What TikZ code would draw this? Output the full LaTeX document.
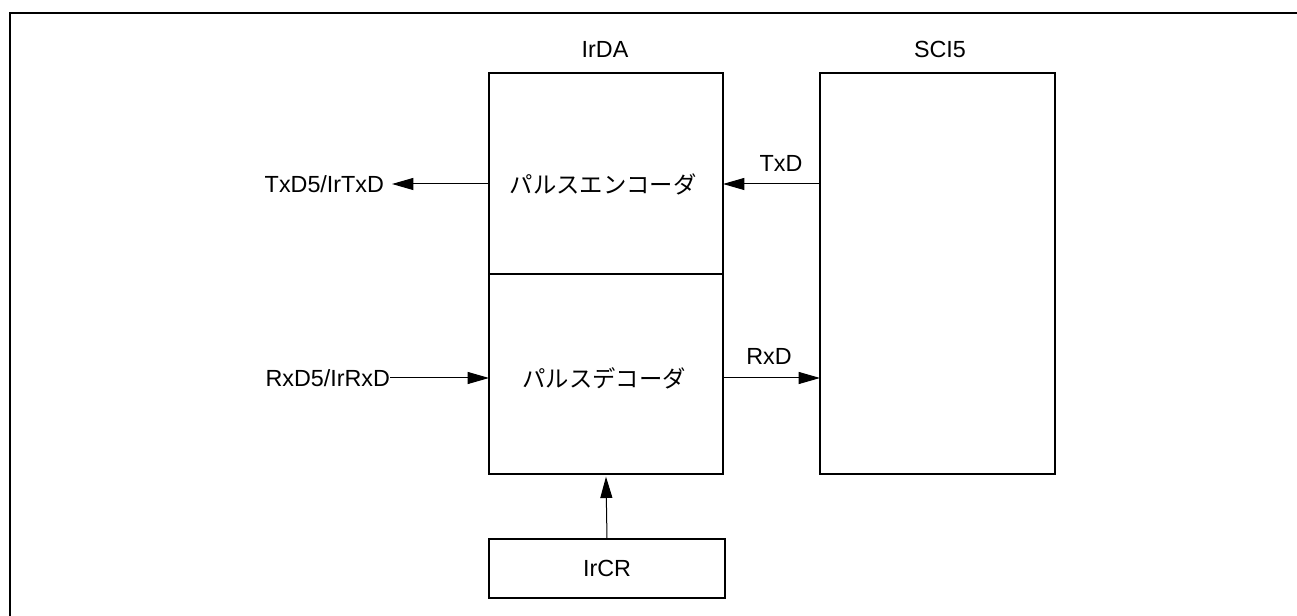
\documentclass[tikz,border=0pt]{standalone}
\usepackage{fontspec}
\setmainfont{Liberation Sans}
\newfontfamily\jpfont{Noto Sans CJK JP}
\usetikzlibrary{arrows.meta}
\begin{document}
\begin{tikzpicture}[x=0.75pt,y=-0.75pt,
  every node/.style={font=\fontsize{17.5pt}{21pt}\selectfont, inner sep=0pt, outer sep=0pt},
  blk/.style={draw, line width=1.5pt, anchor=north west},
  lbl/.style={anchor=center},
  arr/.style={line width=0.75pt, -{Triangle[length=16pt,width=9pt]}},
  frameline/.style={line width=2pt}]
\useasboundingbox (0,0) rectangle (1297,616);
% frame (clipped at right and bottom)
\coordinate (fa) at (1297,13);
\coordinate (fb) at (10,13);
\coordinate (fc) at (10,616);
\draw[frameline] (fa) -- (fb) -- (fc);
% blocks
\node[blk, minimum width=175.5pt, minimum height=150.75pt] (enc) at (489,73) {};
\node[blk, minimum width=175.5pt, minimum height=150pt] (dec) at (489,274) {};
\node[blk, minimum width=176.25pt, minimum height=300.75pt] (sci) at (820,73) {};
\node[blk, minimum width=177pt, minimum height=44.25pt] (ircr) at (489,539) {};
% texts
\node[lbl] (irda) at (605,49) {IrDA};
\node[lbl] (sci5) at (940,49) {SCI5};
\node[lbl] (enctxt) at (603,184) {\jpfont パルスエンコーダ};
\node[lbl] (dectxt) at (604,378) {\jpfont パルスデコーダ};
\node at (ircr.center) {IrCR};
\node[lbl] (txdl) at (781,163) {TxD};
\node[lbl] (rxdl) at (769,356) {RxD};
\node[anchor=east, outer xsep=6pt] (txd5) at (392,184) {TxD5/IrTxD};
\node[anchor=east] (rxd5) at (390,378) {RxD5/IrRxD};
% connectors
\draw[arr] (enc.west |- txd5.east) -- (txd5.east);
\draw[arr] (sci.west |- txd5.east) -- (enc.east |- txd5.east);
\draw[arr] (rxd5.east) -- (dec.west |- rxd5.east);
\draw[arr] (dec.east |- rxd5.east) -- (sci.west |- rxd5.east);
\draw[arr] (ircr.north) -- ([yshift=-2pt]dec.south);
\end{tikzpicture}
\end{document}
